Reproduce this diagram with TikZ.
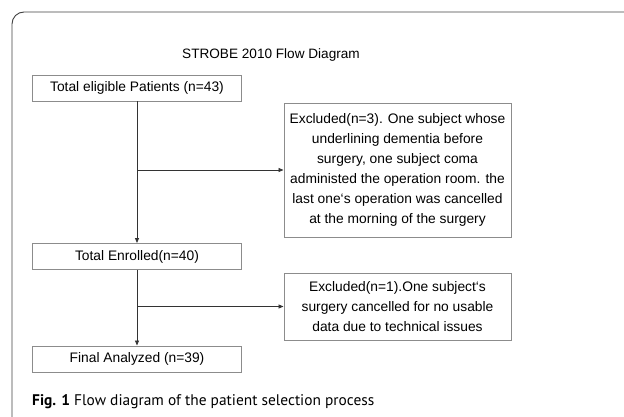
\documentclass[tikz,border=0pt]{standalone}
\usepackage{fontspec}
\setmainfont{Liberation Sans}
\newfontfamily\capfont{PT Sans}
\usetikzlibrary{arrows.meta}
\tikzset{
  flowbox/.style={draw=black!45, line width=0.9pt, minimum width=209pt, minimum height=26pt, inner sep=0pt,
    font=\fontsize{13.8}{20}\selectfont},
  exclbox/.style={draw=black!45, line width=0.9pt, minimum width=227pt, inner sep=0pt, align=center,
    font=\fontsize{13.8}{20}\selectfont},
  flowarrow/.style={-{Triangle[length=5pt,width=4pt]}, line width=0.8pt, draw=black!80}
}
\begin{document}
\begin{tikzpicture}[x=1pt,y=-1pt]
\useasboundingbox (0,0) rectangle (624,417);
% outer frame
\draw[black!75, line width=0.9pt, rounded corners=12pt] (12,417) -- (12,12) -- (624,12);
\node[font=\fontsize{13.6}{16}\selectfont] (title) at (271,55) {STROBE 2010 Flow Diagram};
% boxes
\node[flowbox] (eligible) at (137,88) {Total eligible Patients (n=43)};
\node[exclbox, minimum height=134pt] (excl1) at (397.5,170) {Excluded(n=3). One subject whose\\underlining dementia before\\surgery, one subject coma\\administed the operation room. the\\last one`s operation was cancelled\\at the morning of the surgery};
\node[flowbox] (enrolled) at (137,256.5) {Total Enrolled(n=40)};
\node[exclbox, minimum height=67pt] (excl2) at (397.5,306.5) {Excluded(n=1).One subject`s\\surgery cancelled for no usable\\data due to technical issues};
\node[flowbox] (final) at (137,359) {Final Analyzed (n=39)};
% arrows
\draw[flowarrow] (eligible) -- (enrolled);
\draw[flowarrow] (eligible.south |- excl1.west) -- (excl1.west);
\draw[flowarrow] (enrolled) -- (final);
\draw[flowarrow] (enrolled.south |- excl2.west) -- (excl2.west);
% caption
\node[anchor=base west, inner sep=0pt, font=\fontsize{15.4}{18}\capfont] (caption) at (32,405) {\textbf{Fig. 1} Flow diagram of the patient selection process};
\end{tikzpicture}
\end{document}
